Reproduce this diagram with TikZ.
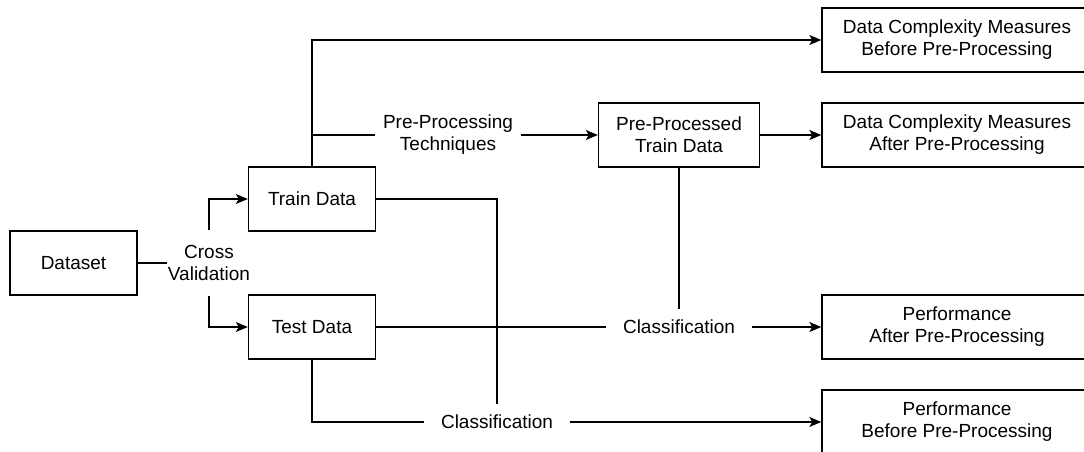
\documentclass[tikz,border=0pt]{standalone}
\usepackage{fontspec}
\setmainfont{Liberation Sans}
\usetikzlibrary{arrows.meta}
\tikzset{>={Stealth[length=12pt,width=10pt,inset=3pt]},
  box/.style={draw,line width=1.4pt,minimum height=64pt,align=center},
  lbl/.style={align=center,inner ysep=0pt}}

\begin{document}
\begin{tikzpicture}[x=1pt,y=-1pt,line width=1.4pt]
\fontsize{19}{22}\selectfont
\path[use as bounding box,clip] (0,0) rectangle (1084,452);
\node[box,minimum width=127pt] (dataset) at (73.5,263) {Dataset};
\node[box,minimum width=127pt] (train) at (312,199) {Train Data};
\node[box,minimum width=127pt] (test) at (312,327) {Test Data};
\node[box,minimum width=161pt] (ppdata) at (679,135) {Pre-Processed\\Train Data};
\node[box,minimum width=270pt] (dcmbefore) at (957,40) {Data Complexity Measures\\Before Pre-Processing};
\node[box,minimum width=270pt] (dcmafter) at (957,135) {Data Complexity Measures\\After Pre-Processing};
\node[box,minimum width=270pt] (perfafter) at (957,327) {Performance\\After Pre-Processing};
\node[box,minimum width=270pt] (perfbefore) at (957,422) {Performance\\Before Pre-Processing};
\node[lbl,inner xsep=0pt,minimum height=64pt] (crossval) at (209,263) {Cross\\Validation};
\node[lbl,inner xsep=7pt] (pptech) at (448,135) {Pre-Processing\\Techniques};
\node[lbl,inner xsep=16pt,minimum height=34pt] (clsafter) at (679,327) {Classification};
\node[lbl,inner xsep=16pt,minimum height=34pt] (clsbefore) at (497,422) {Classification};
\coordinate (split) at (train.north |- pptech);
\draw (dataset) -- (crossval);
\draw[->] (crossval.north) |- (train);
\draw[->] (crossval.south) |- (test);
\draw[->] (train.north) |- (dcmbefore);
\draw (split) -- (pptech);
\draw[->] (pptech) -- (ppdata);
\draw[->] (ppdata) -- (dcmafter);
\draw (ppdata) -- (clsafter);
\draw (test) -- (clsafter);
\draw[->] (clsafter) -- (perfafter);
\draw (train.east) -| (clsbefore.north);
\draw (test.south) |- (clsbefore);
\draw[->] (clsbefore) -- (perfbefore);
\end{tikzpicture}
\end{document}
